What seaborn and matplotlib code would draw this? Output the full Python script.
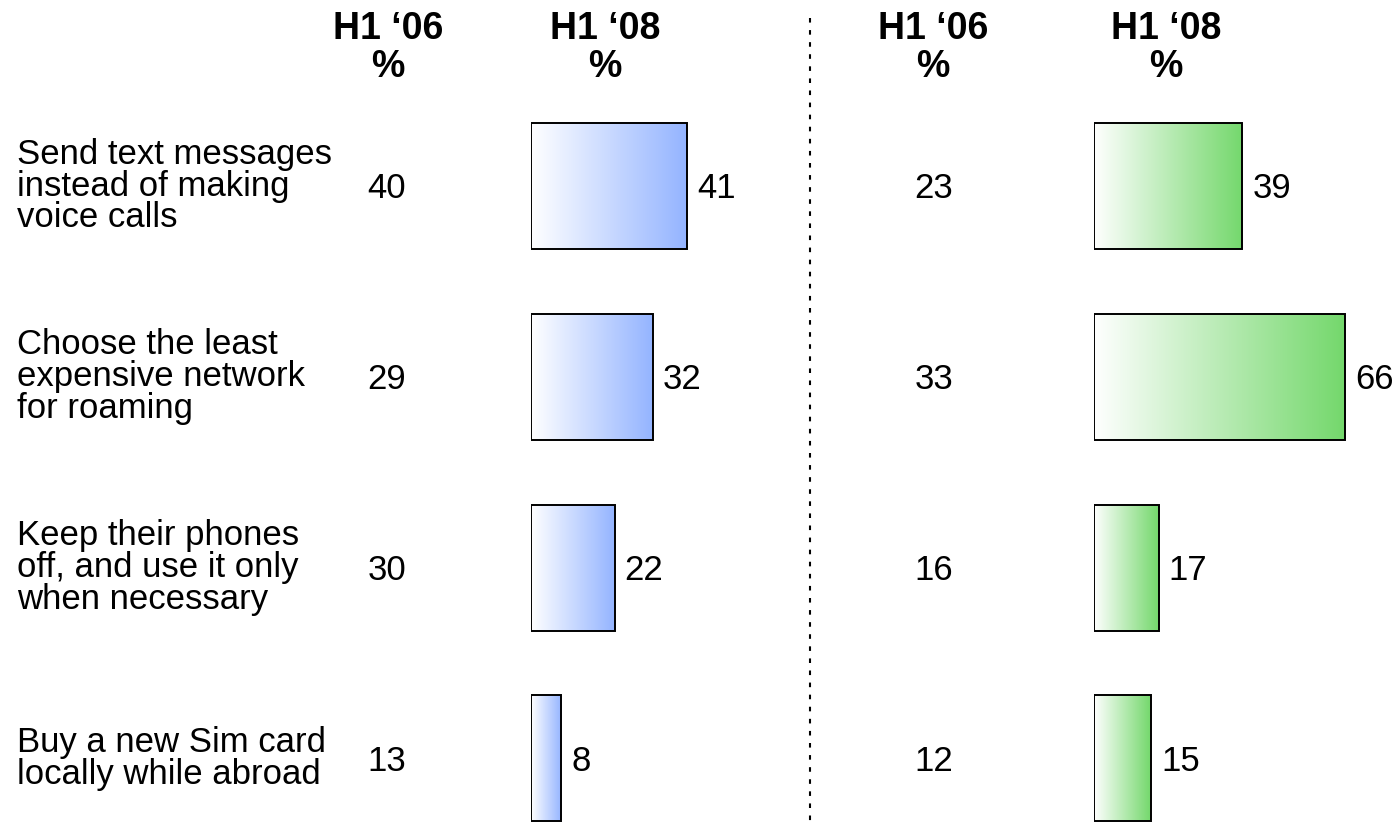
import numpy as np
import pandas as pd
import matplotlib
matplotlib.use("Agg")
import matplotlib.pyplot as plt
import seaborn as sns
from matplotlib.colors import LinearSegmentedColormap
from matplotlib.lines import Line2D
from matplotlib.transforms import blended_transform_factory, offset_copy

# Survey answers: share of respondents (%) per behaviour
categories = [
    "Send text messages\ninstead of making\nvoice calls",
    "Choose the least\nexpensive network\nfor roaming",
    "Keep their phones\noff, and use it only\nwhen necessary",
    "Buy a new Sim card\nlocally while abroad",
]
left_h1_06 = [40, 29, 30, 13]
left_h1_08 = [41, 32, 22, 8]
right_h1_06 = [23, 33, 16, 12]
right_h1_08 = [39, 66, 17, 15]
column_headers = ["H1 \u201806", "H1 \u201808"]

W, H = 1398, 822
DPI = 100
PX_PER_UNIT = 3.8           # bar length scale (pixels per percentage point)
ROW_TOP, ROW_STEP = 186.0, 190.8  # first row centre and row pitch (pixels)

sns.set_theme(style="white")
plt.rcParams["font.family"] = ["Liberation Sans", "DejaVu Sans"]

fig = plt.figure(figsize=(W / DPI, H / DPI), dpi=DPI)
fig.patch.set_facecolor("white")

y_top = -ROW_TOP / ROW_STEP
y_bottom = (H - ROW_TOP) / ROW_STEP

BODY = 25
HEAD = 27
NUM_DROP = -2.0   # points: nudges numbers so their digits sit on the row centre


def gradient_bars(ax_left_px, ax_width_px, values, end_color):
    ax = fig.add_axes([ax_left_px / W, 0, ax_width_px / W, 1])
    df = pd.DataFrame({"category": categories, "value": values})
    sns.barplot(data=df, x="value", y="category", orient="h", ax=ax,
                color="white", saturation=1, width=0.66,
                edgecolor="black", linewidth=1.4)
    cmap = LinearSegmentedColormap.from_list("fade", ["#ffffff", end_color])
    grad = np.linspace(0, 1, 256).reshape(1, -1)
    for patch in list(ax.patches):
        x0, y0 = patch.get_x(), patch.get_y()
        w, h = patch.get_width(), patch.get_height()
        img = ax.imshow(grad, extent=[x0, x0 + w, y0 + h, y0], aspect="auto",
                        cmap=cmap, zorder=2, interpolation="bicubic")
        img.set_clip_path(patch)
        patch.set_facecolor("none")
        patch.set_zorder(3)
    ax.set_xlim(0, ax_width_px / PX_PER_UNIT)
    ax.set_ylim(y_bottom, y_top)
    ax.set_axis_off()
    for i, v in enumerate(values):
        ax.annotate(str(v), xy=(v, i), xytext=(7.2, NUM_DROP), textcoords="offset points",
                    ha="left", va="center", fontsize=BODY, color="black")
    return ax


ax_l = gradient_bars(531, 270, left_h1_08, "#94b4ff")
ax_r = gradient_bars(1094, 304, right_h1_08, "#74d86c")

# Category labels and the earlier-period figures
tr = blended_transform_factory(fig.transFigure, ax_l.transData)
tr_num = offset_copy(tr, fig=fig, y=NUM_DROP, units="points")
for i, (cat, a, b) in enumerate(zip(categories, left_h1_06, right_h1_06)):
    fig.text(17 / W, i, cat, transform=tr, ha="left", va="center",
             fontsize=BODY, color="black", linespacing=0.96)
    fig.text(387 / W, i, str(a), transform=tr_num, ha="center", va="center",
             fontsize=BODY, color="black")
    fig.text(934 / W, i, str(b), transform=tr_num, ha="center", va="center",
             fontsize=BODY, color="black")

# Column headers
for cx, label in zip([388, 605, 933, 1166], column_headers * 2):
    fig.text(cx / W, 1 - 39 / H, label, ha="center", va="baseline",
             fontsize=HEAD, fontweight="bold", color="black")
    fig.text(cx / W, 1 - 77 / H, "%", ha="center", va="baseline",
             fontsize=HEAD, fontweight="bold", color="black")

# Dashed divider between the two panels
fig.add_artist(Line2D([810 / W, 810 / W], [1 - 18 / H, 0], transform=fig.transFigure,
                      color="black", linewidth=1.5, linestyle=(0, (2.2, 3.6))))

fig.savefig("out.png", dpi=DPI, facecolor="white")
